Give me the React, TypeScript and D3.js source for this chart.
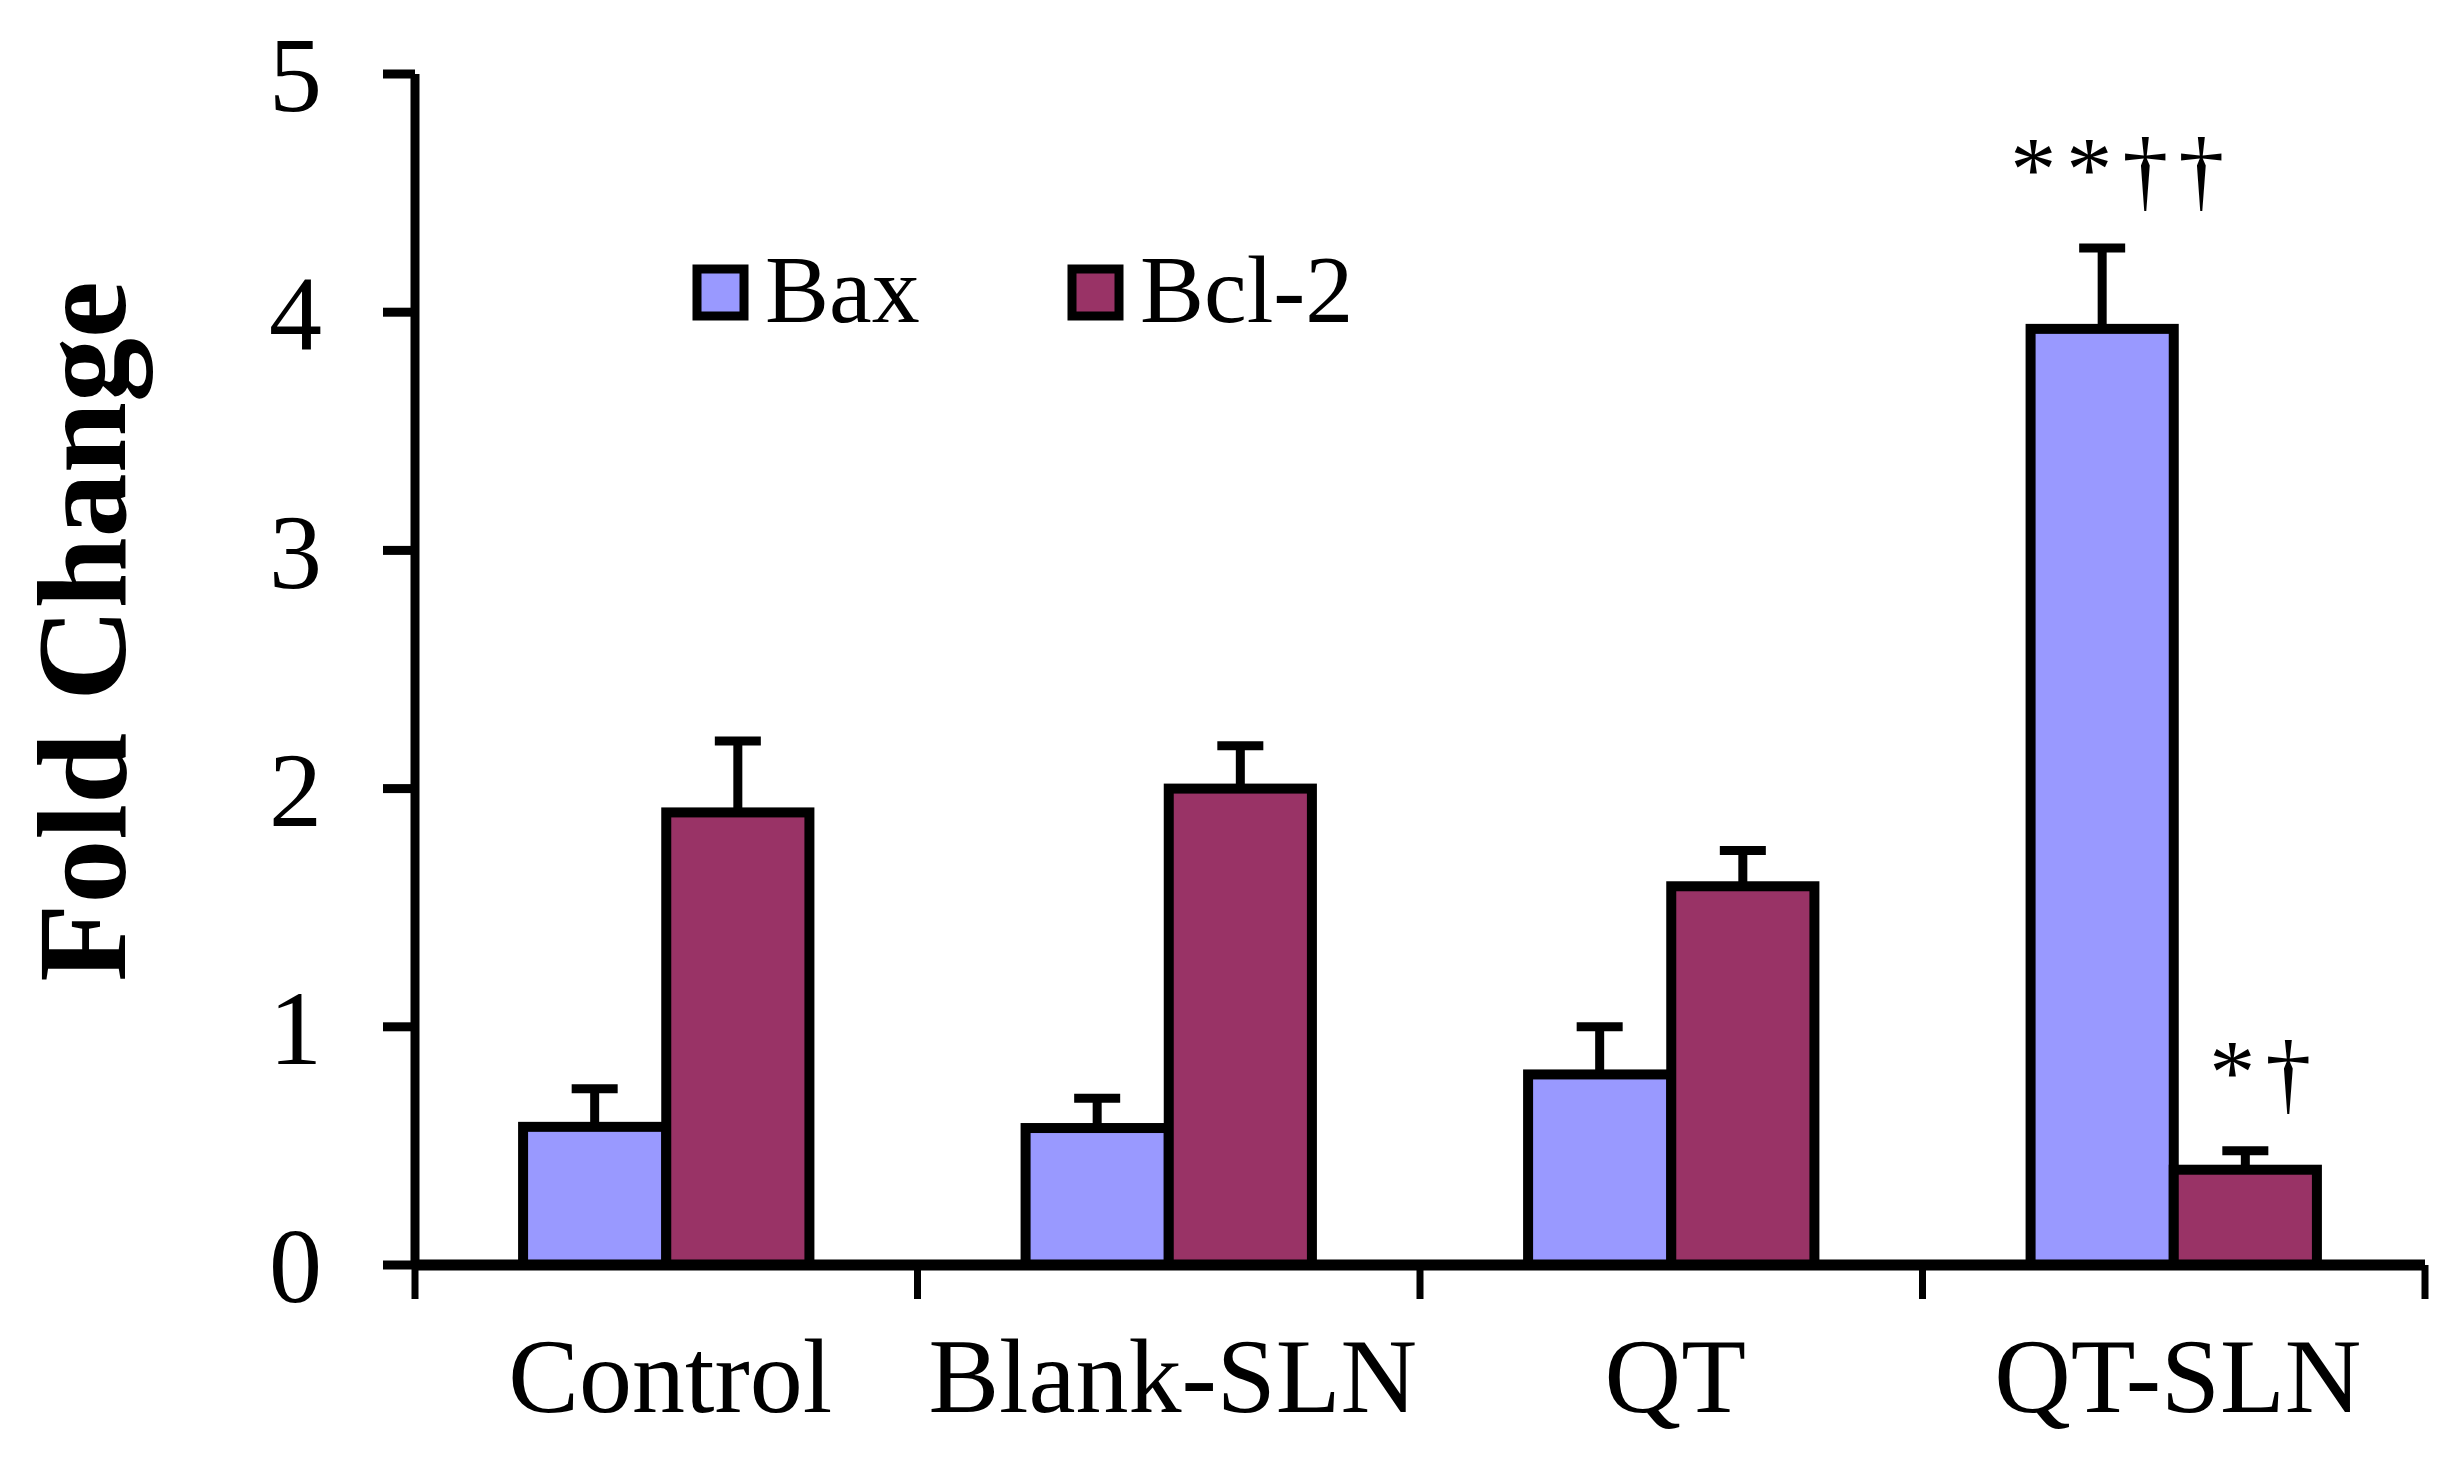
import * as d3 from "d3";
import React, { useEffect, useRef } from "react";

const categories = ["Control", "Blank-SLN", "QT", "QT-SLN"];
const seriesNames = ["Bax", "Bcl-2"];
const baxValues = [0.58, 0.575, 0.8, 3.93];
const baxErrors = [0.16, 0.125, 0.2, 0.34];
const bcl2Values = [1.9, 2.0, 1.59, 0.4];
const bcl2Errors = [0.3, 0.18, 0.15, 0.08];
const yTicks = [0, 1, 2, 3, 4, 5];
const annotations = [
  { category: "QT-SLN", series: "Bax", text: "**††" },
  { category: "QT-SLN", series: "Bcl-2", text: "*†" },
];

const colors: Record<string, string> = { Bax: "#9999FF", "Bcl-2": "#993366" };
const FONT = "'Liberation Serif', 'Times New Roman', serif";

const W = 2452;
const H = 1464;

export default function App() {
  const ref = useRef<SVGSVGElement | null>(null);

  useEffect(() => {
    const svg = d3.select(ref.current);
    svg.selectAll("*").remove();

    const margin = { left: 415, right: 27, top: 74, bottom: 199 };
    const rows = categories.map((c, i) => ({
      category: c,
      values: [
        { series: "Bax", value: baxValues[i], err: baxErrors[i] },
        { series: "Bcl-2", value: bcl2Values[i], err: bcl2Errors[i] },
      ],
    }));

    const x0 = d3
      .scaleBand()
      .domain(categories)
      .range([margin.left, W - margin.right])
      .padding(0);

    const x1 = d3
      .scaleBand()
      .domain(seriesNames)
      .range([0, x0.bandwidth()])
      .paddingInner(0)
      .paddingOuter(0.755);

    const y = d3
      .scaleLinear()
      .domain([0, 5])
      .range([H - margin.bottom, margin.top]);

    const g = svg.append("g");

    // bars
    const groups = g
      .selectAll("g.group")
      .data(rows)
      .enter()
      .append("g")
      .attr("transform", (d) => `translate(${x0(d.category)},0)`);

    groups
      .selectAll("rect")
      .data((d) => d.values)
      .enter()
      .append("rect")
      .attr("x", (d) => x1(d.series)!)
      .attr("y", (d) => y(d.value))
      .attr("width", x1.bandwidth())
      .attr("height", (d) => y(0) - y(d.value))
      .attr("fill", (d) => colors[d.series])
      .attr("stroke", "#000")
      .attr("stroke-width", 10);

    // error bars (upper only)
    const capW = 46;
    groups
      .selectAll("path.err")
      .data((d) => d.values)
      .enter()
      .append("path")
      .attr("class", "err")
      .attr("d", (d) => {
        const cx = x1(d.series)! + x1.bandwidth() / 2;
        const top = y(d.value + d.err);
        return `M${cx},${y(d.value)}V${top}M${cx - capW / 2},${top}H${cx + capW / 2}`;
      })
      .attr("fill", "none")
      .attr("stroke", "#000")
      .attr("stroke-width", 9);

    // y axis
    g.append("line")
      .attr("x1", margin.left)
      .attr("x2", margin.left)
      .attr("y1", y(0))
      .attr("y2", y(5))
      .attr("stroke", "#000")
      .attr("stroke-width", 9);

    g.selectAll("line.ytick")
      .data(yTicks)
      .enter()
      .append("line")
      .attr("x1", margin.left - 32)
      .attr("x2", margin.left)
      .attr("y1", (d) => y(d))
      .attr("y2", (d) => y(d))
      .attr("stroke", "#000")
      .attr("stroke-width", 9);

    g.selectAll("text.ytick")
      .data(yTicks)
      .enter()
      .append("text")
      .attr("x", 322)
      .attr("y", (d) => y(d))
      .attr("dy", "0.35em")
      .attr("text-anchor", "end")
      .attr("font-family", FONT)
      .attr("font-size", 106)
      .text((d) => d);

    // x axis
    g.append("line")
      .attr("x1", margin.left)
      .attr("x2", W - margin.right)
      .attr("y1", y(0))
      .attr("y2", y(0))
      .attr("stroke", "#000")
      .attr("stroke-width", 11);

    const boundaries = [...categories.map((c) => x0(c)!), W - margin.right];
    g.selectAll("line.xtick")
      .data(boundaries)
      .enter()
      .append("line")
      .attr("x1", (d) => d)
      .attr("x2", (d) => d)
      .attr("y1", y(0))
      .attr("y2", y(0) + 34)
      .attr("stroke", "#000")
      .attr("stroke-width", 7);

    g.selectAll("text.xlabel")
      .data(categories)
      .enter()
      .append("text")
      .attr("x", (d) => x0(d)! + x0.bandwidth() / 2 + 4)
      .attr("y", 1412)
      .attr("text-anchor", "middle")
      .attr("font-family", FONT)
      .attr("font-size", 106)
      .text((d) => d);

    // y title
    g.append("text")
      .attr("transform", `translate(125,${(y(0) + y(5)) / 2 - 38}) rotate(-90)`)
      .attr("text-anchor", "middle")
      .attr("font-family", FONT)
      .attr("font-weight", "bold")
      .attr("font-size", 128)
      .text("Fold Change");

    // significance marks
    g.selectAll("text.sig")
      .data(annotations)
      .enter()
      .append("text")
      .attr("x", (d) => x0(d.category)! + x1(d.series)! + x1.bandwidth() / 2 + 20)
      .attr("y", (d) => {
        const i = categories.indexOf(d.category);
        const v = d.series === "Bax" ? baxValues[i] + baxErrors[i] : bcl2Values[i] + bcl2Errors[i];
        return y(v) - 48;
      })
      .attr("text-anchor", "middle")
      .attr("font-family", FONT)
      .attr("font-size", 92)
      .attr("letter-spacing", 10)
      .text((d) => d.text);

    // legend
    const legendX = [697, 1072];
    const legend = g
      .selectAll("g.legend")
      .data(seriesNames)
      .enter()
      .append("g")
      .attr("transform", (d, i) => `translate(${legendX[i]},269)`);

    legend
      .append("rect")
      .attr("width", 47)
      .attr("height", 47)
      .attr("fill", (d) => colors[d])
      .attr("stroke", "#000")
      .attr("stroke-width", 9);

    legend
      .append("text")
      .attr("x", 68)
      .attr("y", 53)
      .attr("font-family", FONT)
      .attr("font-size", 96)
      .text((d) => d);
  }, []);

  return (
    <svg
      ref={ref}
      width={W}
      height={H}
      viewBox={`0 0 ${W} ${H}`}
      style={{ position: "absolute", left: 0, top: 0, background: "#fff" }}
    />
  );
}
